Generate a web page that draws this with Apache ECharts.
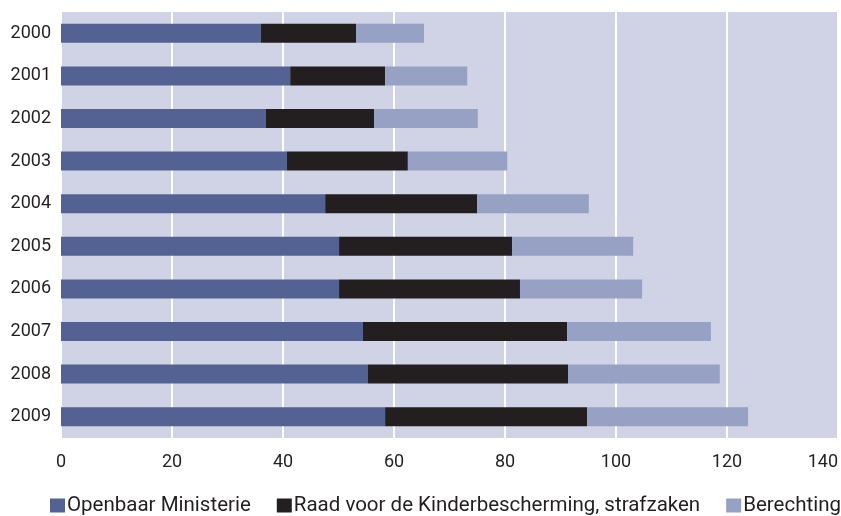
<!DOCTYPE html>
<html>
<head>
<meta charset="utf-8">
<script src="https://cdn.jsdelivr.net/npm/echarts@6/dist/echarts.min.js"></script>
<style>
  html, body { margin: 0; padding: 0; background: #fff; }
  #chart { width: 841px; height: 516px; }
</style>
</head>
<body>
<div id="chart"></div>
<script>
const years = ['2000', '2001', '2002', '2003', '2004', '2005', '2006', '2007', '2008', '2009']
const openbaarMinisterie = [36.0, 41.3, 36.9, 40.7, 47.6, 50.1, 50.1, 54.4, 55.3, 58.4]
const raadKinderbescherming = [17.2, 17.1, 19.5, 21.8, 27.4, 31.2, 32.6, 36.8, 36.1, 36.4]
const berechting = [12.2, 14.8, 18.7, 17.9, 20.1, 21.8, 22.0, 25.9, 27.3, 29.0]
const xTicks = [0, 20, 40, 60, 80, 100, 120, 140]

const font = 'Roboto, sans-serif'
const textColor = '#231f20'

const chart = echarts.init(document.getElementById('chart'))
const bar = (name, data, color) => ({
  name,
  type: 'bar',
  stack: 'totaal',
  barWidth: 19,
  data,
  itemStyle: { color },
  emphasis: { disabled: true }
})
chart.setOption({
  animation: false,
  grid: {
    left: 61,
    right: 3,
    top: 12,
    bottom: 78,
    outerBoundsMode: 'none',
    containLabel: false,
    show: true,
    backgroundColor: '#d0d3e5',
    borderWidth: 0
  },
  legend: {
    top: 495,
    left: 50,
    padding: 0,
    icon: 'rect',
    itemWidth: 15,
    itemHeight: 14,
    itemGap: 26,
    textStyle: { fontFamily: font, fontSize: 20.5, color: textColor, padding: [0, 0, 0, -3] },
    data: ['Openbaar Ministerie', 'Raad voor de Kinderbescherming, strafzaken', 'Berechting']
  },
  xAxis: {
    type: 'value',
    min: xTicks[0],
    max: xTicks[xTicks.length - 1],
    interval: 20,
    axisLine: { show: false },
    axisTick: { show: false },
    axisLabel: { color: textColor, fontFamily: font, fontSize: 18, margin: 15, alignMaxLabel: 'right' },
    splitLine: { lineStyle: { color: '#ffffff', width: 2 } }
  },
  yAxis: {
    type: 'category',
    inverse: true,
    data: years,
    axisLine: { show: false },
    axisTick: { show: false },
    axisLabel: { color: textColor, fontFamily: font, fontSize: 18, margin: 10 }
  },
  series: [
    bar('Openbaar Ministerie', openbaarMinisterie, '#536292'),
    bar('Raad voor de Kinderbescherming, strafzaken', raadKinderbescherming, '#231f20'),
    bar('Berechting', berechting, '#97a1c3')
  ]
})
</script>
</body>
</html>
